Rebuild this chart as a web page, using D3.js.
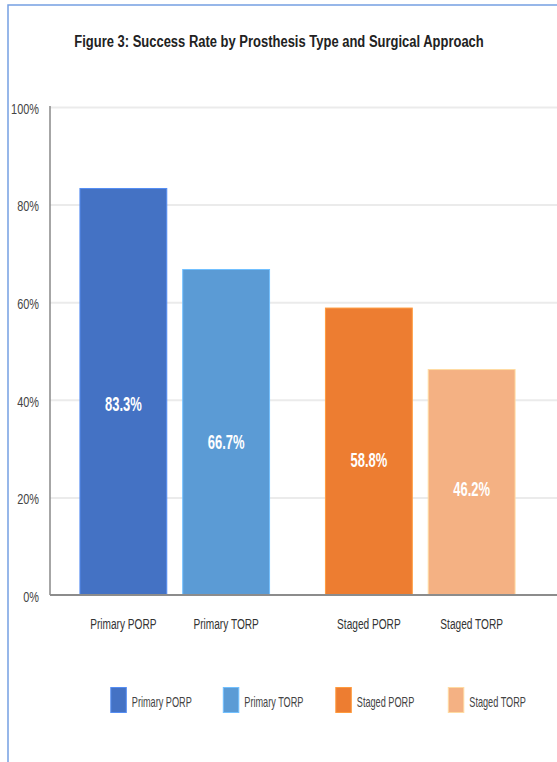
<!DOCTYPE html>
<html>
<head>
<meta charset="utf-8">
<script src="https://cdn.jsdelivr.net/npm/d3@7"></script>
<style>
  html, body { margin: 0; padding: 0; background: #fff; }
  svg { display: block; font-family: "Liberation Sans", Arial, sans-serif; }
</style>
</head>
<body>
<div id="chart"></div>
<script>
// ---- data ----
const categories = ["Primary PORP", "Primary TORP", "Staged PORP", "Staged TORP"];
const approaches = ["Primary", "Staged"];
const prostheses = ["PORP", "TORP"];
const successRates = [83.3, 66.7, 58.8, 46.2];
const yTicks = [0, 20, 40, 60, 80, 100];
const barColors = ["#4472C4", "#5B9BD5", "#ED7D31", "#F4B183"];
const chartTitle = "Figure 3: Success Rate by Prosthesis Type and Surgical Approach";

// ---- layout ----
const W = 557, H = 762;
const plot = { left: 50, top: 107, bottom: 595 };

const rows = categories.map((name, i) => {
  const [approach, prosthesis] = name.split(" ");
  return { name, approach, prosthesis, value: successRates[i], color: barColors[i] };
});

const svg = d3.select("#chart").append("svg")
  .attr("width", W).attr("height", H);

// condense text horizontally about its anchor point
function squeeze(sel, k) {
  sel.each(function () {
    const t = d3.select(this);
    const x = +t.attr("x") || 0, yy = +t.attr("y") || 0;
    t.attr("x", 0).attr("y", 0)
      .attr("transform", `translate(${x},${yy}) scale(${k},1)`);
  });
}

// frame lines (top and left)
svg.append("path")
  .attr("d", `M8,${H} L8,5 L${W},5`)
  .attr("fill", "none")
  .attr("stroke", "#76a0e2")
  .attr("stroke-width", 1.5);

// scales
const y = d3.scaleLinear().domain([0, 100]).range([plot.bottom, plot.top]);
const x0 = d3.scaleBand().domain(approaches).range([52, 543])
  .paddingInner(0.2276).paddingOuter(0.1138);
const x1 = d3.scaleBand().domain(prostheses).range([0, x0.bandwidth()])
  .paddingInner(0.155);
const barX = d => x0(d.approach) + x1(d.prosthesis);
const barCenter = d => barX(d) + x1.bandwidth() / 2;

// gridlines
const grid = svg.append("g")
  .attr("transform", `translate(${plot.left},0)`)
  .call(d3.axisLeft(y).tickValues(yTicks.slice(1)).tickSize(-(W - plot.left)).tickFormat(""));
grid.select(".domain").remove();
grid.selectAll("line").attr("stroke", "#ebebeb").attr("stroke-width", 2);

// y tick labels
const yAxis = svg.append("g")
  .attr("transform", `translate(${plot.left},0)`)
  .call(d3.axisLeft(y).tickValues(yTicks).tickSize(0).tickPadding(11).tickFormat(d => d + "%"));
yAxis.select(".domain").remove();
yAxis.selectAll("text")
  .attr("font-size", 14)
  .attr("font-family", "Liberation Sans, Arial, sans-serif")
  .attr("fill", "#444")
  .attr("dy", "0.45em")
  .call(squeeze, 0.78);

// bars
svg.append("g").selectAll("rect").data(rows).join("rect")
  .attr("x", barX)
  .attr("y", d => y(d.value))
  .attr("width", x1.bandwidth())
  .attr("height", d => y(0) - y(d.value))
  .attr("fill", d => d.color)
  .attr("stroke", d => d3.color(d.color).brighter(0.6))
  .attr("stroke-width", 1);

// axis lines
svg.append("line")
  .attr("x1", plot.left).attr("x2", plot.left)
  .attr("y1", y(100) - 1).attr("y2", y(0))
  .attr("stroke", "#888").attr("stroke-width", 1.5);
svg.append("line")
  .attr("x1", plot.left).attr("x2", W)
  .attr("y1", y(0)).attr("y2", y(0))
  .attr("stroke", "#8c8c8c").attr("stroke-width", 2);

// value labels inside bars
svg.append("g").selectAll("text").data(rows).join("text")
  .attr("x", barCenter)
  .attr("y", d => y(d.value * 0.47))
  .attr("dy", "0.35em")
  .attr("text-anchor", "middle")
  .attr("font-size", 20)
  .attr("font-weight", "bold")
  .attr("fill", "#fff")
  .text(d => d.value.toFixed(1) + "%")
  .call(squeeze, 0.65);

// category labels
svg.append("g").selectAll("text").data(rows).join("text")
  .attr("x", barCenter)
  .attr("y", 628.5)
  .attr("text-anchor", "middle")
  .attr("font-size", 15)
  .attr("fill", "#333")
  .text(d => d.name)
  .call(squeeze, 0.675);

// title, condensed to a fixed run width
const titleText = svg.append("text")
  .attr("x", 279).attr("y", 46.5)
  .attr("text-anchor", "middle")
  .attr("font-size", 17)
  .attr("font-weight", "bold")
  .attr("fill", "#222")
  .text(chartTitle);
titleText.call(squeeze, 410 / titleText.node().getComputedTextLength());

// legend
const legendX = d3.scalePoint().domain(categories).range([110.8, 448.3]);
const legend = svg.append("g").selectAll("g").data(rows).join("g")
  .attr("transform", d => `translate(${legendX(d.name)},687.5)`);
legend.append("rect")
  .attr("width", 15.5).attr("height", 25)
  .attr("fill", d => d.color)
  .attr("stroke", d => d3.color(d.color).brighter(0.6))
  .attr("stroke-width", 1);
legend.append("text")
  .attr("x", 21).attr("y", 19.5)
  .attr("font-size", 14)
  .attr("fill", "#444")
  .text(d => d.name)
  .call(squeeze, 0.654);
</script>
</body>
</html>
